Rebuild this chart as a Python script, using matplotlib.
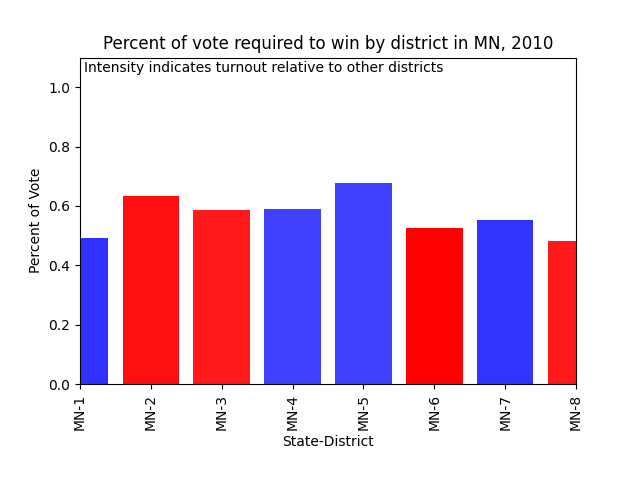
import matplotlib
matplotlib.use('Agg')
import matplotlib.pyplot as plt

districts = ['MN-1', 'MN-2', 'MN-3', 'MN-4', 'MN-5', 'MN-6', 'MN-7', 'MN-8']
win_pct = [0.492, 0.633, 0.586, 0.589, 0.677, 0.525, 0.552, 0.481]
party = ['D', 'R', 'R', 'D', 'D', 'R', 'D', 'R']
turnout = [0.81, 0.94, 0.90, 0.75, 0.75, 1.0, 0.80, 0.90]

fig, ax = plt.subplots(figsize=(6.4, 4.8), dpi=100)
fig.subplots_adjust(bottom=0.2)

for i, (v, p, a) in enumerate(zip(win_pct, party, turnout)):
    ax.bar(i, v, width=0.8, color='blue' if p == 'D' else 'red', alpha=a)

ax.set_xlim(0, len(districts) - 1)
ax.set_ylim(0, 1.1)
ax.set_xticks(range(len(districts)))
ax.set_xticklabels(districts, rotation=90)
ax.set_xlabel('State-District')
ax.set_ylabel('Percent of Vote')
ax.set_title('Percent of vote required to win by district in MN, 2010')
ax.text(0.008, 0.99, 'Intensity indicates turnout relative to other districts',
        transform=ax.transAxes, va='top', ha='left', fontsize=10)

fig.savefig('out.png')
